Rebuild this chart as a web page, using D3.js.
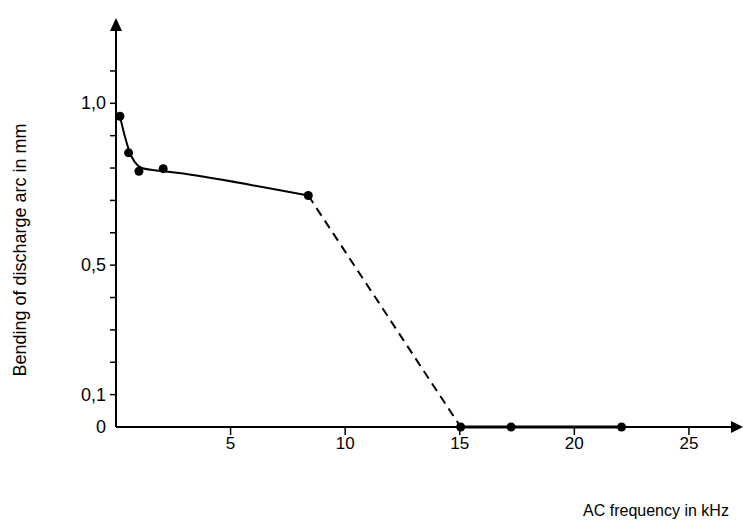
<!DOCTYPE html>
<html>
<head>
<meta charset="utf-8">
<script src="https://d3js.org/d3.v7.min.js"></script>
<style>
  body { margin: 0; background: #fff; }
  svg text { font-family: "Liberation Sans", Arial, sans-serif; fill: #000; }
</style>
</head>
<body>
<svg width="743" height="525"></svg>
<script>
// values
var freq = [0.17, 0.55, 1.0, 2.06, 8.39, 15.04, 17.24, 22.06];
var bend = [0.96, 0.847, 0.79, 0.798, 0.715, 0, 0, 0];
var curveIdx = [0, 1, 2, 3, 4];   // smoothed solid curve
var dashIdx = [4, 5];
var tailIdx = [5, 6, 7];
var xTicks = [5, 10, 15, 20, 25];
var yTicks = [0.1, 0.2, 0.3, 0.4, 0.5, 0.6, 0.7, 0.8, 0.9, 1.0, 1.1];
var yLabels = [0, 0.1, 0.5, 1.0];

var svg = d3.select("svg");
var x = d3.scaleLinear().domain([0, 27.36]).range([116, 743]);
var y = d3.scaleLinear().domain([0, 1]).range([427, 103.3]);

var pts = freq.map(function (f, i) { return { f: f, b: bend[i] }; });
function line(c) {
  return d3.line().x(function (d) { return x(d.f); }).y(function (d) { return y(d.b); }).curve(c);
}

// axes
var x0 = x(0), y0 = y(0);
svg.append("line").attr("x1", x0).attr("y1", y0).attr("x2", 732).attr("y2", y0)
  .attr("stroke", "#000").attr("stroke-width", 2);
svg.append("path").attr("d", "M743," + y0 + " L731," + (y0 - 6) + " L731," + (y0 + 6) + "Z");
svg.append("line").attr("x1", x0).attr("y1", y0).attr("x2", x0).attr("y2", 30)
  .attr("stroke", "#000").attr("stroke-width", 2);
svg.append("path").attr("d", "M" + x0 + ",18 L" + (x0 - 6) + ",31 L" + (x0 + 6) + ",31Z");

// x ticks
var xg = svg.append("g");
xg.selectAll("line").data(xTicks).enter().append("line")
  .attr("x1", function (d) { return x(d); }).attr("x2", function (d) { return x(d); })
  .attr("y1", y0).attr("y2", y0 + 8).attr("stroke", "#000").attr("stroke-width", 1.5);
xg.selectAll("text").data(xTicks).enter().append("text")
  .attr("x", function (d) { return x(d); }).attr("y", y0 + 22)
  .attr("text-anchor", "middle").style("font-size", "17px").text(function (d) { return d; });

// y ticks
var yg = svg.append("g");
yg.selectAll("line").data(yTicks).enter().append("line")
  .attr("x1", x0 - 6).attr("x2", x0)
  .attr("y1", function (d) { return y(d); }).attr("y2", function (d) { return y(d); })
  .attr("stroke", "#000").attr("stroke-width", 1.5);
yg.selectAll("text").data(yLabels).enter().append("text")
  .attr("x", x0 - 10).attr("y", function (d) { return y(d) + 6; })
  .attr("text-anchor", "end").style("font-size", "18px")
  .text(function (d) { return d === 0 ? "0" : d3.format(".1f")(d).replace(".", ","); });

// curves
svg.append("path").datum(curveIdx.map(function (i) { return pts[i]; }))
  .attr("d", line(d3.curveBasis)).attr("fill", "none")
  .attr("stroke", "#000").attr("stroke-width", 2);
svg.append("path").datum(dashIdx.map(function (i) { return pts[i]; }))
  .attr("d", line(d3.curveLinear))
  .attr("fill", "none").attr("stroke", "#000").attr("stroke-width", 2)
  .attr("stroke-dasharray", "9,6");
svg.append("path").datum(tailIdx.map(function (i) { return pts[i]; }))
  .attr("d", line(d3.curveLinear))
  .attr("fill", "none").attr("stroke", "#000").attr("stroke-width", 3);

// points
svg.append("g").selectAll("circle").data(pts).enter().append("circle")
  .attr("cx", function (d) { return x(d.f); }).attr("cy", function (d) { return y(d.b); })
  .attr("r", 4.5).attr("fill", "#000");

// axis titles
svg.append("text").attr("transform", "translate(26,250) rotate(-90)")
  .attr("text-anchor", "middle").style("font-size", "18px")
  .text("Bending of discharge arc in mm");
svg.append("text").attr("x", 656).attr("y", 516)
  .attr("text-anchor", "middle").style("font-size", "16px")
  .text("AC frequency in kHz");
</script>
</body>
</html>
